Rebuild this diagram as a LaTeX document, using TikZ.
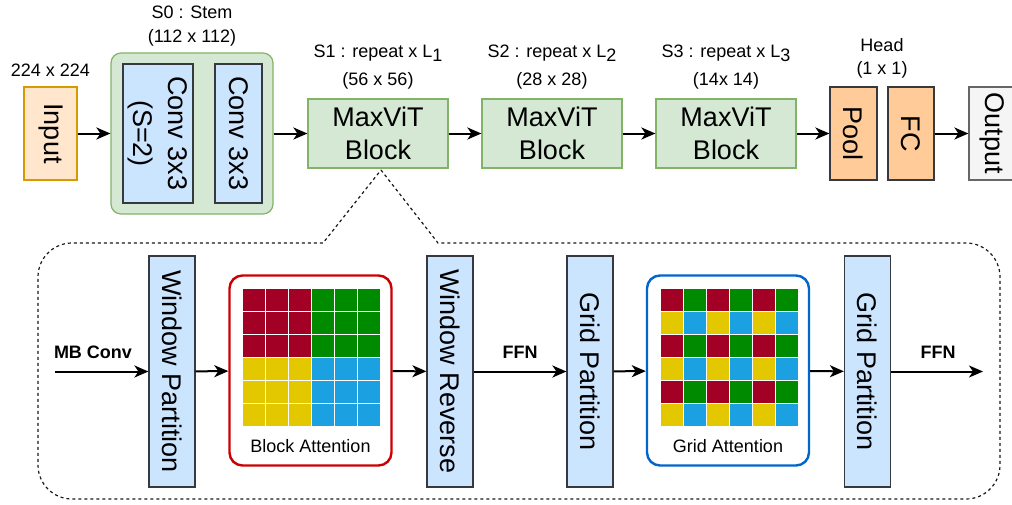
\documentclass[tikz,border=0pt]{standalone}
\usepackage{fontspec}
\usepackage{graphicx}
\setmainfont{Liberation Sans}
\usetikzlibrary{arrows.meta}

\definecolor{inputFill}{HTML}{FFE6CC}
\definecolor{inputDraw}{HTML}{D79B00}
\definecolor{greenFill}{HTML}{D5E8D4}
\definecolor{greenDraw}{HTML}{82B366}
\definecolor{blueFill}{HTML}{CCE5FF}
\definecolor{darkDraw}{HTML}{36393D}
\definecolor{orangeFill}{HTML}{FFCC99}
\definecolor{outFill}{HTML}{F5F5F5}
\definecolor{outDraw}{HTML}{666666}
\definecolor{attRed}{HTML}{CC0000}
\definecolor{attBlue}{HTML}{0066CC}
\definecolor{cellRed}{HTML}{A20025}
\definecolor{cellGreen}{HTML}{008A00}
\definecolor{cellYellow}{HTML}{E3C800}
\definecolor{cellBlue}{HTML}{1BA1E2}

\newcommand{\vtext}[1]{\rotatebox{-90}{#1}}

\begin{document}
\begin{tikzpicture}[x=1pt,y=-1pt,
  bigfont/.style={font=\fontsize{27}{33}\selectfont},
  smallfont/.style={font=\fontsize{18}{21}\selectfont},
  box/.style={draw, line width=1.2pt, inner sep=0pt, anchor=center, bigfont, align=center},
  inbox/.style={box, fill=inputFill, draw=inputDraw},
  stembox/.style={box, fill=greenFill, draw=greenDraw, rounded corners=10pt},
  vitbox/.style={box, fill=greenFill, draw=greenDraw, minimum width=140pt, minimum height=69pt},
  convbox/.style={box, fill=blueFill, draw=darkDraw},
  headbox/.style={box, fill=orangeFill, draw=darkDraw, minimum width=47pt, minimum height=93pt},
  outbox/.style={box, fill=outFill, draw=outDraw, minimum width=46pt, minimum height=93pt},
  partbox/.style={box, fill=blueFill, draw=darkDraw, minimum width=46pt, minimum height=231pt},
  attbox/.style={draw, line width=2.4pt, rounded corners=13pt, minimum width=162pt, minimum height=190pt, anchor=center},
  lbl/.style={smallfont, inner sep=0pt, anchor=base},
  boldlbl/.style={lbl, font=\fontsize{18}{21}\selectfont\bfseries},
  arr/.style={line width=2pt, -{Stealth[length=14pt, width=12pt, inset=4pt]}},
  callout/.style={line width=1.2pt, black!90, dash pattern=on 3pt off 3pt}
]
\useasboundingbox (0,0) rectangle (1012,504);

% ---------------- top row: overall network ----------------
\node[inbox, minimum width=53pt, minimum height=93pt] (in) at (50.5,133.5) {\vtext{Input}};
\node[lbl] (inlbl) at (50.5,76.5) {224 x 224};

\node[stembox, minimum width=162pt, minimum height=161pt] (stem) at (192,133.5) {};
\node[convbox, minimum width=70pt, minimum height=139pt] (conv1) at (158,133.5)
  {\vtext{\begin{tabular}{@{}c@{}}Conv 3x3\\[2pt](S=2)\end{tabular}}};
\node[convbox, minimum width=47pt, minimum height=139pt] (conv2) at (238.5,133.5) {\vtext{Conv 3x3}};
\node[lbl] (s0a) at (192,18.5) {S0 : Stem};
\node[lbl] (s0b) at (192,42.5) {(112 x 112)};

\node[vitbox] (b1) at (378,133.5) {MaxViT\\Block};
\node[vitbox] (b2) at (552,133.5) {MaxViT\\Block};
\node[vitbox] (b3) at (726,133.5) {MaxViT\\Block};
\node[lbl] (s1a) at (378,57) {S1 : repeat x L\raisebox{-4pt}{1}};
\node[lbl] (s1b) at (378,85.5) {(56 x 56)};
\node[lbl] (s2a) at (552,57) {S2 : repeat x L\raisebox{-4pt}{2}};
\node[lbl] (s2b) at (552,85.5) {(28 x 28)};
\node[lbl] (s3a) at (726,57) {S3 : repeat x L\raisebox{-4pt}{3}};
\node[lbl] (s3b) at (726,85.5) {(14x 14)};

\node[headbox] (pool) at (853.5,133.5) {\vtext{Pool}};
\node[headbox, minimum width=46pt] (fc) at (911,133.5) {\vtext{FC}};
\node[lbl] (heada) at (882,51) {Head};
\node[lbl] (headb) at (882,74.5) {(1 x 1)};
\node[outbox] (out) at (992,133.5) {\vtext{Output}};

\draw[arr] (in) -- (stem);
\draw[arr] (stem) -- (b1);
\draw[arr] (b1) -- (b2);
\draw[arr] (b2) -- (b3);
\draw[arr] (b3) -- (pool);
\draw[arr] (fc) -- (out);

% ---------------- bottom: inside a MaxViT block ----------------
\coordinate (apex) at (381,170);
\draw[callout] (apex) -- (438,243) [rounded corners=34pt] -- (1000,243) -- (1000,499)
  -- (38,499) -- (38,243) [sharp corners] -- (323,243) -- cycle;

\node[partbox] (wp) at (172,371.5) {\vtext{Window Partition}};
\node[partbox] (wr) at (450,371.5) {\vtext{Window Reverse}};
\node[partbox] (gp1) at (590,371.5) {\vtext{Grid Partition}};
\node[partbox] (gp2) at (867.5,371.5) {\vtext{Grid Partition}};

\node[attbox, draw=attRed] (ba) at (310.5,370.5) {};
\node[attbox, draw=attBlue] (ga) at (728,370.5) {};

% block attention: four 3x3 windows
\foreach \r in {0,...,5}{
  \foreach \c in {0,...,5}{
    \ifnum\r<3
      \ifnum\c<3 \def\cc{cellRed}\else\def\cc{cellGreen}\fi
    \else
      \ifnum\c<3 \def\cc{cellYellow}\else\def\cc{cellBlue}\fi
    \fi
    \filldraw[fill=\cc, draw=white, line width=0.8pt] ({242+23*\c},{288+23*\r}) rectangle ++(23,23);
  }
}
% grid attention: interleaved cells
\foreach \r in {0,...,5}{
  \foreach \c in {0,...,5}{
    \ifodd\r
      \ifodd\c \def\cc{cellBlue}\else\def\cc{cellYellow}\fi
    \else
      \ifodd\c \def\cc{cellGreen}\else\def\cc{cellRed}\fi
    \fi
    \filldraw[fill=\cc, draw=white, line width=0.8pt] ({660+23*\c},{288+23*\r}) rectangle ++(23,23);
  }
}
\node[lbl] (balbl) at (310.5,452) {Block Attention};
\node[lbl] (galbl) at (728,452) {Grid Attention};

\coordinate (mbin) at (55,371.5);
\coordinate (ffnout) at (983,371.5);
\node[boldlbl] (mb) at (93,358) {MB Conv};
\node[boldlbl] (ffn1) at (520,358) {FFN};
\node[boldlbl] (ffn2) at (938,358) {FFN};

\draw[arr] (mbin) -- (wp);
\draw[arr] (wp) -- (ba);
\draw[arr] (ba) -- (wr);
\draw[arr] (wr) -- (gp1);
\draw[arr] (gp1) -- (ga);
\draw[arr] (ga) -- (gp2);
\draw[arr] (gp2) -- (ffnout);
\end{tikzpicture}
\end{document}
